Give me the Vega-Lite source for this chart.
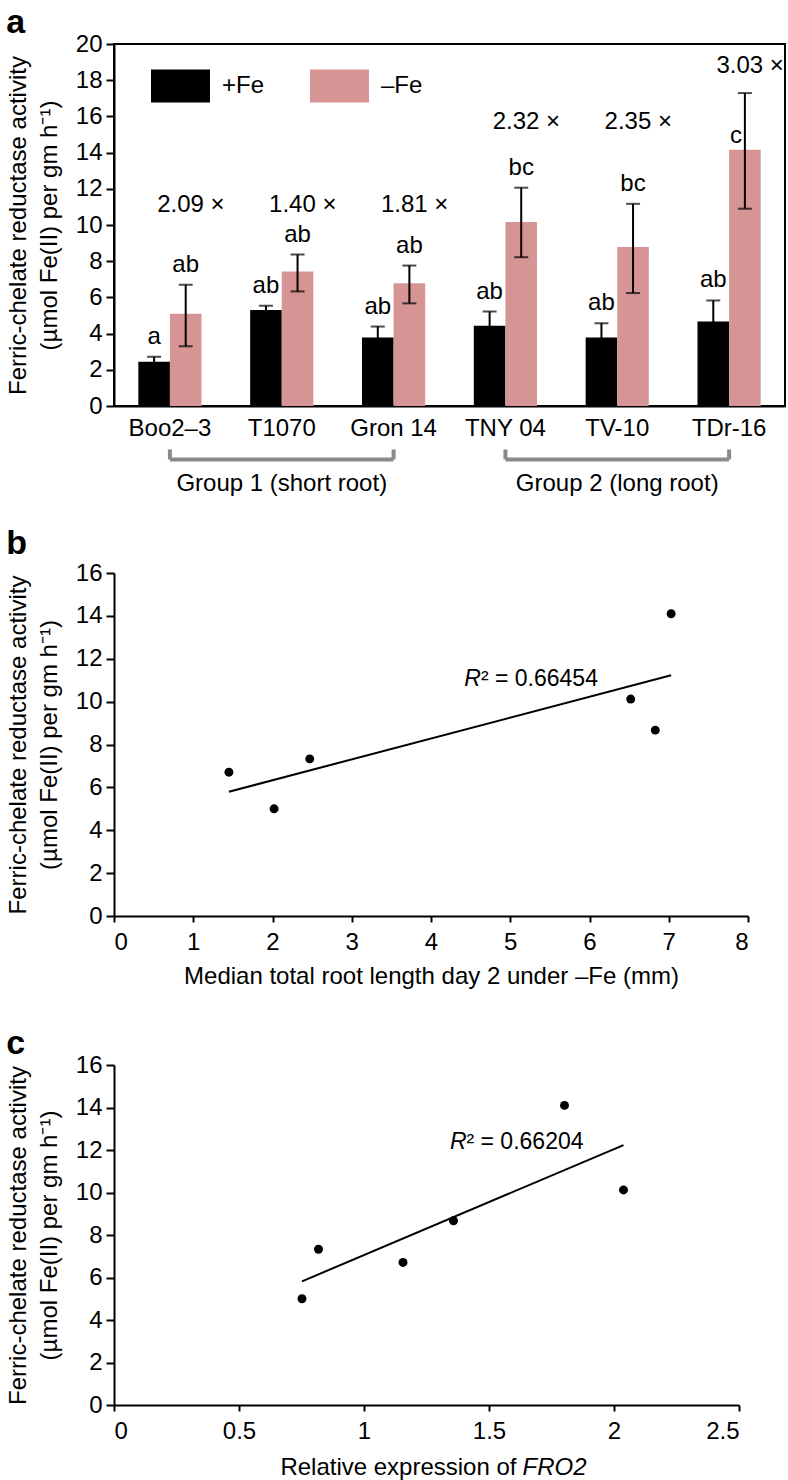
{
  "$schema": "https://vega.github.io/schema/vega-lite/v6.json",
  "padding": {"left": 5, "top": 5, "right": 0, "bottom": 5},
  "background": "white",
  "config": {
    "font": "Liberation Sans",
    "view": {"stroke": null},
    "axis": {
      "labelFont": "Liberation Sans", "titleFont": "Liberation Sans",
      "labelFontSize": 24, "titleFontSize": 24, "titleFontWeight": "normal",
      "labelColor": "black", "titleColor": "black",
      "domainColor": "black", "tickColor": "black",
      "domainWidth": 2, "tickWidth": 2, "tickSize": 8,
      "grid": false, "labelPadding": 4, "titleLineHeight": 31, "labelOverlap": false
    },
    "axisY": {"labelOverlap": false},
    "axisQuantitative": {"labelOverlap": false},
    "title": {"fontSize": 34, "fontWeight": "bold", "anchor": "start", "frame": "bounds", "font": "Liberation Sans", "color": "black", "offset": 2},
    "text": {"font": "Liberation Sans", "fontSize": 24, "color": "black"}
  },
  "datasets": {
    "fcr": [
      {"cultivar": "Boo2–3", "fe": "+Fe", "mean": 2.44, "lo": 2.16, "hi": 2.72, "letter": "a"},
      {"cultivar": "Boo2–3", "fe": "–Fe", "mean": 5.09, "lo": 3.3, "hi": 6.7, "letter": "ab"},
      {"cultivar": "T1070", "fe": "+Fe", "mean": 5.31, "lo": 5.08, "hi": 5.54, "letter": "ab"},
      {"cultivar": "T1070", "fe": "–Fe", "mean": 7.43, "lo": 6.33, "hi": 8.37, "letter": "ab"},
      {"cultivar": "Gron 14", "fe": "+Fe", "mean": 3.78, "lo": 3.17, "hi": 4.39, "letter": "ab"},
      {"cultivar": "Gron 14", "fe": "–Fe", "mean": 6.78, "lo": 5.67, "hi": 7.76, "letter": "ab"},
      {"cultivar": "TNY 04", "fe": "+Fe", "mean": 4.43, "lo": 3.64, "hi": 5.22, "letter": "ab"},
      {"cultivar": "TNY 04", "fe": "–Fe", "mean": 10.17, "lo": 8.22, "hi": 12.06, "letter": "bc"},
      {"cultivar": "TV-10", "fe": "+Fe", "mean": 3.78, "lo": 2.99, "hi": 4.57, "letter": "ab"},
      {"cultivar": "TV-10", "fe": "–Fe", "mean": 8.78, "lo": 6.24, "hi": 11.17, "letter": "bc"},
      {"cultivar": "TDr-16", "fe": "+Fe", "mean": 4.67, "lo": 3.51, "hi": 5.83, "letter": "ab"},
      {"cultivar": "TDr-16", "fe": "–Fe", "mean": 14.16, "lo": 10.9, "hi": 17.29, "letter": "c"}
    ],
    "folds": [
      {"cultivar": "Boo2–3", "fold": "2.09 ×", "labelY": 11.1},
      {"cultivar": "T1070", "fold": "1.40 ×", "labelY": 11.1},
      {"cultivar": "Gron 14", "fold": "1.81 ×", "labelY": 11.1},
      {"cultivar": "TNY 04", "fold": "2.32 ×", "labelY": 15.7},
      {"cultivar": "TV-10", "fold": "2.35 ×", "labelY": 15.7},
      {"cultivar": "TDr-16", "fold": "3.03 ×", "labelY": 18.8}
    ],
    "groups": [
      {"group": "Group 1 (short root)", "from": "Boo2–3", "to": "Gron 14", "mid": "T1070"},
      {"group": "Group 2 (long root)", "from": "TNY 04", "to": "TDr-16", "mid": "TV-10"}
    ],
    "scatter": [
      {"cultivar": "Boo2–3", "rootLength": 2.02, "fro2": 0.752, "fcr": 5.0},
      {"cultivar": "T1070", "rootLength": 2.47, "fro2": 0.818, "fcr": 7.33},
      {"cultivar": "Gron 14", "rootLength": 1.45, "fro2": 1.156, "fcr": 6.71},
      {"cultivar": "TNY 04", "rootLength": 6.52, "fro2": 2.038, "fcr": 10.12},
      {"cultivar": "TV-10", "rootLength": 6.83, "fro2": 1.358, "fcr": 8.67},
      {"cultivar": "TDr-16", "rootLength": 7.03, "fro2": 1.802, "fcr": 14.1}
    ],
    "notes": [
      {"panel": "b", "part": "R", "label": "R"},
      {"panel": "b", "part": "rest", "label": "² = 0.66454"},
      {"panel": "c", "part": "R", "label": "R"},
      {"panel": "c", "part": "rest", "label": "² = 0.66204"},
      {"panel": "c", "part": "title", "label": "Relative expression of"},
      {"panel": "c", "part": "gene", "label": "FRO2"}
    ]
  },
  "spacing": 39,
  "vconcat": [
    {
      "spacing": 30,
      "vconcat": [
        {
          "title": {"text": "a", "offset": -8},
          "width": 671,
          "height": 362,
          "view": {"stroke": "black", "strokeWidth": 2},
          "encoding": {
            "x": {
              "field": "cultivar", "type": "nominal", "sort": null,
              "scale": {"domain": ["Boo2–3", "T1070", "Gron 14", "TNY 04", "TV-10", "TDr-16"], "paddingInner": 0.435, "paddingOuter": 0.2175},
              "axis": {"title": null, "ticks": false, "labelAngle": 0, "labelPadding": 10}
            }
          },
          "layer": [
            {
              "data": {"name": "fcr"},
              "mark": {"type": "bar"},
              "encoding": {
                "xOffset": {"field": "fe", "type": "nominal", "scale": {"domain": ["+Fe", "–Fe"]}},
                "y": {
                  "field": "mean", "type": "quantitative",
                  "scale": {"domain": [0, 20], "nice": false},
                  "axis": {"values": [0, 2, 4, 6, 8, 10, 12, 14, 16, 18, 20], "format": "d", "labelOverlap": false, "labelSeparation": 0, "labelBound": false, "title": ["Ferric-chelate reductase activity", "(µmol Fe(II) per gm h⁻¹)"], "titlePadding": 14}
                },
                "color": {
                  "field": "fe", "type": "nominal",
                  "scale": {"domain": ["+Fe", "–Fe"], "range": ["#000000", "#d69494"]},
                  "legend": {
                    "orient": "none", "legendX": 37, "legendY": 12, "direction": "horizontal",
                    "title": null, "symbolType": "M-1,-0.56H1V0.56H-1Z", "symbolSize": 3481,
                    "symbolStrokeWidth": 0, "symbolOpacity": 1, "labelFontSize": 24, "labelFont": "Liberation Sans",
                    "labelColor": "black", "labelOffset": 12, "columnPadding": 45, "padding": 0
                  }
                }
              }
            },
            {
              "data": {"name": "fcr"},
              "mark": {"type": "rule", "color": "black", "strokeWidth": 2},
              "encoding": {
                "xOffset": {"field": "fe", "type": "nominal"},
                "y": {"field": "lo", "type": "quantitative", "axis": {"values": [0, 2, 4, 6, 8, 10, 12, 14, 16, 18, 20], "format": "d", "labelOverlap": false, "labelSeparation": 0, "labelBound": false, "title": ["Ferric-chelate reductase activity", "(µmol Fe(II) per gm h⁻¹)"], "titlePadding": 14}},
                "y2": {"field": "hi"}
              }
            },
            {
              "data": {"name": "fcr"},
              "mark": {"type": "tick", "color": "black", "orient": "horizontal", "size": 14, "thickness": 2},
              "encoding": {
                "xOffset": {"field": "fe", "type": "nominal"},
                "y": {"field": "hi", "type": "quantitative", "axis": {"values": [0, 2, 4, 6, 8, 10, 12, 14, 16, 18, 20], "format": "d", "labelOverlap": false, "labelSeparation": 0, "labelBound": false, "title": ["Ferric-chelate reductase activity", "(µmol Fe(II) per gm h⁻¹)"], "titlePadding": 14}}
              }
            },
            {
              "data": {"name": "fcr"},
              "mark": {"type": "tick", "color": "black", "orient": "horizontal", "size": 14, "thickness": 2},
              "encoding": {
                "xOffset": {"field": "fe", "type": "nominal"},
                "y": {"field": "lo", "type": "quantitative", "axis": {"values": [0, 2, 4, 6, 8, 10, 12, 14, 16, 18, 20], "format": "d", "labelOverlap": false, "labelSeparation": 0, "labelBound": false, "title": ["Ferric-chelate reductase activity", "(µmol Fe(II) per gm h⁻¹)"], "titlePadding": 14}}
              }
            },
            {
              "data": {"name": "fcr"},
              "transform": [{"filter": "datum.letter !== 'c'"}],
              "mark": {"type": "text", "baseline": "middle", "dy": -20},
              "encoding": {
                "xOffset": {"field": "fe", "type": "nominal"},
                "y": {"field": "hi", "type": "quantitative", "axis": {"values": [0, 2, 4, 6, 8, 10, 12, 14, 16, 18, 20], "format": "d", "labelOverlap": false, "labelSeparation": 0, "labelBound": false, "title": ["Ferric-chelate reductase activity", "(µmol Fe(II) per gm h⁻¹)"], "titlePadding": 14}},
                "text": {"field": "letter"}
              }
            },
            {
              "data": {"name": "fcr"},
              "transform": [{"filter": "datum.letter === 'c'"}],
              "mark": {"type": "text", "baseline": "middle", "dy": -14, "dx": -9},
              "encoding": {
                "xOffset": {"field": "fe", "type": "nominal"},
                "y": {"field": "mean", "type": "quantitative", "axis": {"values": [0, 2, 4, 6, 8, 10, 12, 14, 16, 18, 20], "format": "d", "labelOverlap": false, "labelSeparation": 0, "labelBound": false, "title": ["Ferric-chelate reductase activity", "(µmol Fe(II) per gm h⁻¹)"], "titlePadding": 14}},
                "text": {"field": "letter"}
              }
            },
            {
              "data": {"name": "folds"},
              "mark": {"type": "text", "baseline": "middle", "dx": 21},
              "encoding": {
                "y": {"field": "labelY", "type": "quantitative", "axis": {"values": [0, 2, 4, 6, 8, 10, 12, 14, 16, 18, 20], "format": "d", "labelOverlap": false, "labelSeparation": 0, "labelBound": false, "title": ["Ferric-chelate reductase activity", "(µmol Fe(II) per gm h⁻¹)"], "titlePadding": 14}},
                "text": {"field": "fold"}
              }
            },
            {
              "data": {"name": "groups"},
              "mark": {"type": "rule", "color": "#8a8a8a", "strokeWidth": 4},
              "encoding": {
                "x": {"field": "from", "type": "nominal"},
                "x2": {"field": "to"},
                "y": {"datum": -2.95, "type": "quantitative", "axis": {"values": [0, 2, 4, 6, 8, 10, 12, 14, 16, 18, 20], "format": "d", "labelOverlap": false, "labelSeparation": 0, "labelBound": false, "title": ["Ferric-chelate reductase activity", "(µmol Fe(II) per gm h⁻¹)"], "titlePadding": 14}}
              }
            },
            {
              "data": {"name": "groups"},
              "mark": {"type": "rule", "color": "#8a8a8a", "strokeWidth": 4},
              "encoding": {
                "x": {"field": "from", "type": "nominal"},
                "y": {"datum": -2.95, "type": "quantitative", "axis": {"values": [0, 2, 4, 6, 8, 10, 12, 14, 16, 18, 20], "format": "d", "labelOverlap": false, "labelSeparation": 0, "labelBound": false, "title": ["Ferric-chelate reductase activity", "(µmol Fe(II) per gm h⁻¹)"], "titlePadding": 14}},
                "y2": {"datum": -2.4}
              }
            },
            {
              "data": {"name": "groups"},
              "mark": {"type": "rule", "color": "#8a8a8a", "strokeWidth": 4},
              "encoding": {
                "x": {"field": "to", "type": "nominal"},
                "y": {"datum": -2.95, "type": "quantitative", "axis": {"values": [0, 2, 4, 6, 8, 10, 12, 14, 16, 18, 20], "format": "d", "labelOverlap": false, "labelSeparation": 0, "labelBound": false, "title": ["Ferric-chelate reductase activity", "(µmol Fe(II) per gm h⁻¹)"], "titlePadding": 14}},
                "y2": {"datum": -2.4}
              }
            },
            {
              "data": {"name": "groups"},
              "mark": {"type": "text", "baseline": "middle"},
              "encoding": {
                "x": {"field": "mid", "type": "nominal"},
                "y": {"datum": -4.3, "type": "quantitative", "axis": {"values": [0, 2, 4, 6, 8, 10, 12, 14, 16, 18, 20], "format": "d", "labelOverlap": false, "labelSeparation": 0, "labelBound": false, "title": ["Ferric-chelate reductase activity", "(µmol Fe(II) per gm h⁻¹)"], "titlePadding": 14}},
                "text": {"field": "group"}
              }
            }
          ]
        },
        {
          "title": {"text": "b", "offset": 0},
          "width": 634,
          "height": 343,
          "layer": [
            {
              "data": {"name": "scatter"},
              "mark": {"type": "point", "filled": true, "color": "black", "size": 80, "opacity": 1},
              "encoding": {
                "x": {
                  "field": "rootLength", "type": "quantitative",
                  "scale": {"domain": [0, 8], "nice": false},
                  "axis": {"values": [0, 1, 2, 3, 4, 5, 6, 7, 8], "format": "d", "tickSize": 6, "labelPadding": 8, "titlePadding": 10, "title": "Median total root length day 2 under –Fe (mm)"}
                },
                "y": {
                  "field": "fcr", "type": "quantitative",
                  "scale": {"domain": [0, 16], "nice": false},
                  "axis": {"values": [0, 2, 4, 6, 8, 10, 12, 14, 16], "format": "d", "title": ["Ferric-chelate reductase activity", "(µmol Fe(II) per gm h⁻¹)"], "titlePadding": 14}
                }
              }
            },
            {
              "data": {"name": "scatter"},
              "transform": [{"regression": "fcr", "on": "rootLength"}],
              "mark": {"type": "line", "color": "black", "strokeWidth": 2},
              "encoding": {
                "x": {"field": "rootLength", "type": "quantitative", "axis": {"values": [0, 1, 2, 3, 4, 5, 6, 7, 8], "format": "d", "tickSize": 6, "labelPadding": 8, "titlePadding": 10, "title": "Median total root length day 2 under –Fe (mm)"}},
                "y": {"field": "fcr", "type": "quantitative", "axis": {"values": [0, 2, 4, 6, 8, 10, 12, 14, 16], "format": "d", "title": ["Ferric-chelate reductase activity", "(µmol Fe(II) per gm h⁻¹)"], "titlePadding": 14}}
              }
            },
            {
              "data": {"name": "notes"},
              "transform": [{"filter": "datum.panel === 'b' && datum.part === 'R'"}],
              "mark": {"type": "text", "fontStyle": "italic", "align": "right", "baseline": "middle", "fontSize": 23},
              "encoding": {"x": {"datum": 4.63}, "y": {"datum": 11.05}, "text": {"field": "label"}}
            },
            {
              "data": {"name": "notes"},
              "transform": [{"filter": "datum.panel === 'b' && datum.part === 'rest'"}],
              "mark": {"type": "text", "align": "left", "baseline": "middle", "fontSize": 23},
              "encoding": {"x": {"datum": 4.63}, "y": {"datum": 11.05}, "text": {"field": "label"}}
            }
          ]
        }
      ]
    },
    {
      "title": {"text": "c", "offset": -8},
      "width": 625,
      "height": 340,
      "layer": [
        {
          "data": {"name": "scatter"},
          "mark": {"type": "point", "filled": true, "color": "black", "size": 80, "opacity": 1},
          "encoding": {
            "x": {
              "field": "fro2", "type": "quantitative",
              "scale": {"domain": [0, 2.5], "nice": false},
              "axis": {"values": [0, 0.5, 1, 1.5, 2, 2.5], "format": "~g", "tickSize": 6, "labelPadding": 8, "title": null}
            },
            "y": {
              "field": "fcr", "type": "quantitative",
              "scale": {"domain": [0, 16], "nice": false},
              "axis": {"values": [0, 2, 4, 6, 8, 10, 12, 14, 16], "format": "d", "title": ["Ferric-chelate reductase activity", "(µmol Fe(II) per gm h⁻¹)"], "titlePadding": 14}
            }
          }
        },
        {
          "data": {"name": "scatter"},
          "transform": [{"regression": "fcr", "on": "fro2"}],
          "mark": {"type": "line", "color": "black", "strokeWidth": 2},
          "encoding": {
            "x": {"field": "fro2", "type": "quantitative", "axis": {"values": [0, 0.5, 1, 1.5, 2, 2.5], "format": "~g", "tickSize": 6, "labelPadding": 8, "title": null}},
            "y": {"field": "fcr", "type": "quantitative", "axis": {"values": [0, 2, 4, 6, 8, 10, 12, 14, 16], "format": "d", "title": ["Ferric-chelate reductase activity", "(µmol Fe(II) per gm h⁻¹)"], "titlePadding": 14}}
          }
        },
        {
          "data": {"name": "notes"},
          "transform": [{"filter": "datum.panel === 'c' && datum.part === 'R'"}],
          "mark": {"type": "text", "fontStyle": "italic", "align": "right", "baseline": "middle", "fontSize": 23},
          "encoding": {"x": {"datum": 1.41}, "y": {"datum": 12.36}, "text": {"field": "label"}}
        },
        {
          "data": {"name": "notes"},
          "transform": [{"filter": "datum.panel === 'c' && datum.part === 'rest'"}],
          "mark": {"type": "text", "align": "left", "baseline": "middle", "fontSize": 23},
          "encoding": {"x": {"datum": 1.41}, "y": {"datum": 12.36}, "text": {"field": "label"}}
        },
        {
          "data": {"name": "notes"},
          "transform": [{"filter": "datum.panel === 'c' && datum.part === 'title'"}],
          "mark": {"type": "text", "align": "right", "baseline": "middle"},
          "encoding": {"x": {"datum": 1.61}, "y": {"datum": -2.97}, "text": {"field": "label"}}
        },
        {
          "data": {"name": "notes"},
          "transform": [{"filter": "datum.panel === 'c' && datum.part === 'gene'"}],
          "mark": {"type": "text", "align": "left", "baseline": "middle", "fontStyle": "italic", "dx": 6},
          "encoding": {"x": {"datum": 1.61}, "y": {"datum": -2.97}, "text": {"field": "label"}}
        }
      ]
    }
  ]
}
